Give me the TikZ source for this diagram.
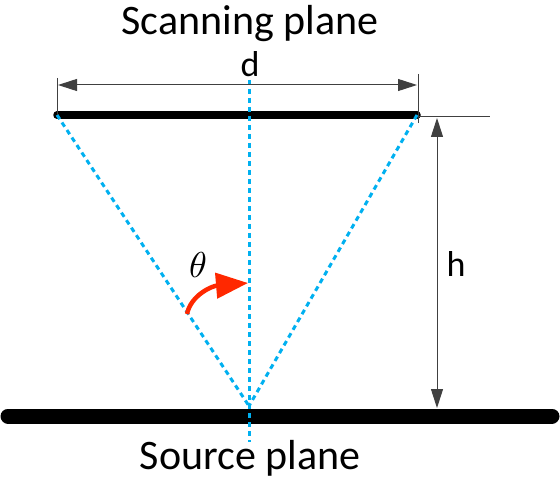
\documentclass[tikz,border=0pt]{standalone}
\usepackage{fontspec}
\setmainfont{Carlito}
\usetikzlibrary{arrows.meta}
\definecolor{beam}{RGB}{0,176,240}
\definecolor{arrowred}{RGB}{255,40,0}
\begin{document}
\begin{tikzpicture}[x=1pt,y=-1pt,
  plane/.style={line width=#1,line cap=round},
  ray/.style={beam,line width=3pt,dash pattern=on 5pt off 4pt},
  dim/.style={line width=1pt,black!75},
  big/.style={font=\fontsize{42}{48}\selectfont},
  lab/.style={font=\fontsize{36}{40}\selectfont}]
\useasboundingbox (0,0) rectangle (560,484);
\coordinate (sl) at (57,115);
\coordinate (sr) at (417,115);
\coordinate (bl) at (8,416);
\coordinate (br) at (552,416);
\coordinate (o) at (249,406);
\coordinate (top) at (249,80);
\coordinate (bot) at (249,442);
% planes
\draw [plane=7.5pt] (sl) -- (sr);
\draw [plane=15pt] (bl) -- (br);
% rays
\draw [ray] (top) -- (bot);
\draw [ray] (sl) -- (o);
\draw [ray] (sr) -- (o);
% dimensions
\draw [dim] (57,78) -- (sl);
\draw [dim] (418,74) -- (418,123);
\draw [dim] (418,117) -- (490,117);
\draw [dim,{Triangle[length=19pt,width=12pt]}-{Triangle[length=19pt,width=12pt]}] (58,85) -- (417,85);
\draw [dim,{Triangle[length=19pt,width=12pt]}-{Triangle[length=19pt,width=12pt]}] (437,118) -- (437,408);
% angle
\draw [arrowred,line width=4.5pt,-{Triangle[length=32pt,width=25pt]}] (187,314) .. controls (191,295) and (212,286) .. (248,283);
\node [big] (scan) at (250,24) {Scanning plane};
\node [big] (src) at (250,458) {Source plane};
\node [lab] (dlab) at (250,64) {d};
\node [lab] (hlab) at (456,264) {h};
\node (theta) at (198,265) {\scalebox{3.6}{$\theta$}};
\end{tikzpicture}
\end{document}
